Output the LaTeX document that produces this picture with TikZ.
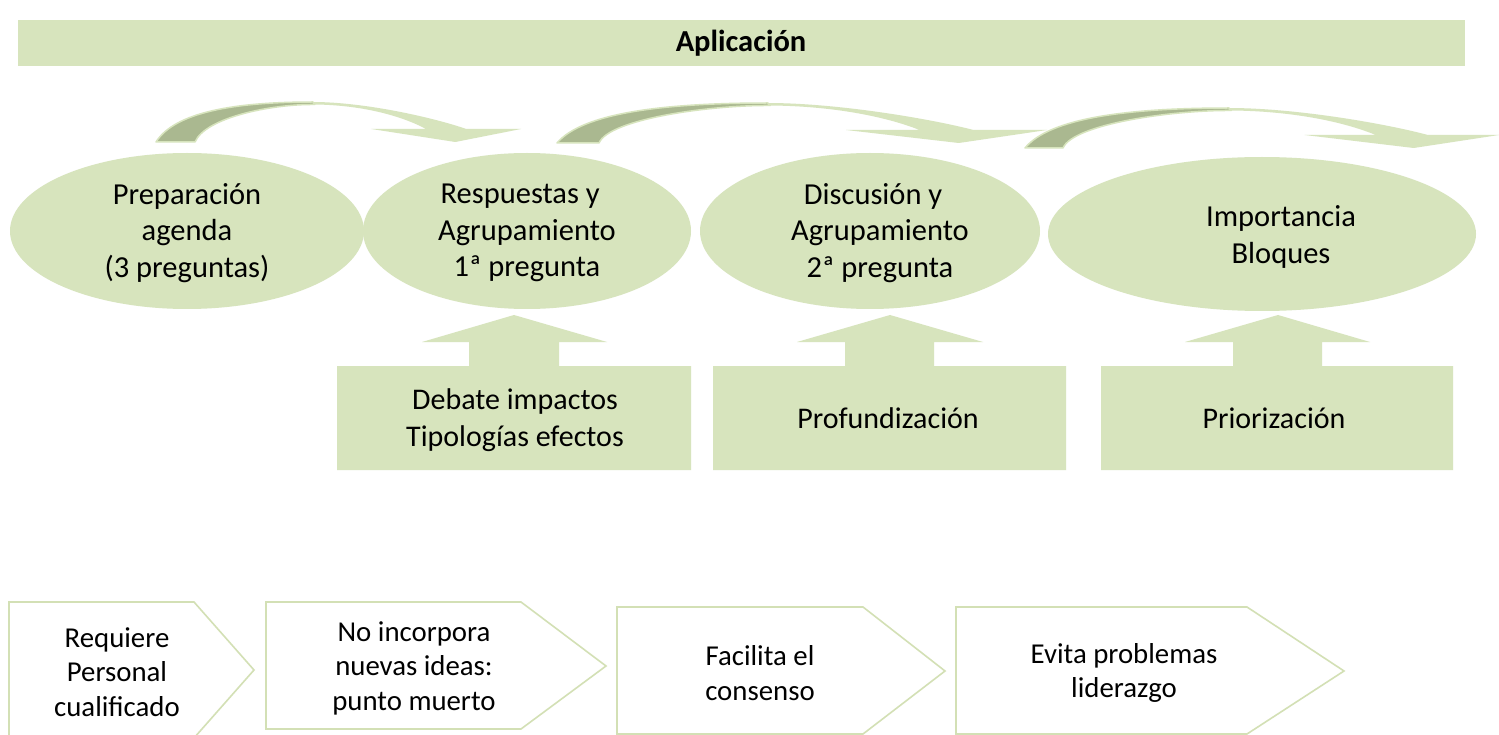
\documentclass[tikz,border=0pt]{standalone}
\usepackage{fontspec}
\setmainfont{Carlito}
\definecolor{lgreen}{HTML}{D7E4BD}
\definecolor{dgreen}{HTML}{AAB890}
\definecolor{cline}{HTML}{D3E0B5}
\tikzset{
  txt/.style={align=center, font=\fontsize{30.5}{36.5}\selectfont, text=black, inner sep=0pt},
  boxtxt/.style={txt, font=\fontsize{30}{37}\selectfont},
  chevtxt/.style={txt, font=\fontsize{28.8}{34.5}\selectfont},
  oval/.style={fill=lgreen, draw=none},
  chevshape/.style={draw=cline, line width=1.6pt, fill=white, line join=miter},
}
% #1 tail outer x, #2 length, #3 top y, #4 tail width
\newcommand\curvarrow[4]{%
  \fill[lgreen]
    (#1,#3+40) .. controls ({#1+0.052*#2},#3+10) and ({#1+0.216*#2},#3) .. ({#1+0.43*#2},#3)
    .. controls ({#1+0.573*#2},#3) and ({#1+0.764*#2},#3+16) .. ({#1+0.85*#2},#3+27)
    -- ({#1+#2},#3+27) -- ({#1+0.82*#2},#3+40) -- ({#1+0.59*#2},#3+27) -- ({#1+0.74*#2},#3+27)
    .. controls ({#1+0.668*#2},#3+13) and ({#1+0.559*#2},#3+3) .. ({#1+0.435*#2},#3+2.5)
    .. controls ({#1+0.312*#2},#3+2) and ({#1+#4+10},#3+16) .. ({#1+#4},#3+40) -- cycle;
  \filldraw[fill=dgreen, draw=lgreen, line width=1.5pt, line join=round]
    (#1,#3+40) .. controls ({#1+0.052*#2},#3+10) and ({#1+0.216*#2},#3) .. ({#1+0.43*#2},#3)
    -- ({#1+0.435*#2},#3+2.5)
    .. controls ({#1+0.312*#2},#3+2) and ({#1+#4+10},#3+16) .. ({#1+#4},#3+40) -- cycle;
}
% callout: #1 rect left, #2 rect right, #3 shaft left, #4 shaft right, #5 head left, #6 head right, #7 tip x
\newcommand\upcallout[7]{%
  \fill[lgreen] (#1,470) -- (#1,366) -- (#3,366) -- (#3,342) -- (#5,342) -- (#7,315)
    -- (#6,342) -- (#4,342) -- (#4,366) -- (#2,366) -- (#2,470) -- cycle;
}
\begin{document}
\begin{tikzpicture}[x=1pt,y=-1pt]
\useasboundingbox (0,0) rectangle (1499,735);
\fill[white] (0,0) rectangle (1499,735);

% top bar
\fill[lgreen] (18,20) rectangle (1465,66);
\node[txt, font=\bfseries\fontsize{30.5}{34}\selectfont] (title) at (741,43) {Aplicación};

% curved arrows
\curvarrow{156}{365}{102}{39}
\curvarrow{557}{490}{103}{42}
\curvarrow{1025}{474}{108}{38}

% ellipses
\fill[oval] (187,231) ellipse [x radius=177, y radius=78];
\fill[oval] (527,231) ellipse [x radius=164, y radius=78];
\fill[oval] (870,231) ellipse [x radius=170, y radius=78];
\fill[oval] (1262,234) ellipse [x radius=214, y radius=77];

\node[txt] (e1) at (187,233) {Preparación\\agenda\\(3 preguntas)};
\node[txt] (e2) at (527,233) {Respuestas y\rule{0.45em}{0pt}\\Agrupamiento\\1ª pregunta};
\node[txt] (e3) at (880,233) {Discusión y\rule{0.45em}{0pt}\\Agrupamiento\\2ª pregunta};
\node[txt] (e4) at (1281,237) {Importancia\\Bloques};

% up callouts
\upcallout{337}{691}{469}{559}{422}{607}{514}
\upcallout{713}{1066}{845}{934}{797}{983}{890}
\upcallout{1101}{1453}{1233}{1322}{1185}{1370}{1278}

\node[boxtxt] (b1) at (515,420) {Debate impactos\\Tipologías efectos};
\node[boxtxt] (b2) at (888,418) {Profundización};
\node[boxtxt] (b3) at (1274,418) {Priorización};

% chevrons
\draw[chevshape] (9,602) -- (194,602) -- (254,670) -- (194,738) -- (9,738) -- cycle;
\draw[chevshape] (266,602) -- (521,602) -- (606,666) -- (521,729) -- (266,729) -- cycle;
\draw[chevshape] (617,607) -- (863,607) -- (945,671) -- (863,734) -- (617,734) -- cycle;
\draw[chevshape] (956,607) -- (1247,607) -- (1344,671) -- (1247,734) -- (956,734) -- cycle;

\node[chevtxt] (c1) at (117,672) {Requiere\\Personal\\cualificado};
\node[chevtxt] (c2) at (414,668) {No incorpora\\nuevas ideas:\\punto muerto};
\node[chevtxt] (c3) at (760,673) {Facilita el\\consenso};
\node[chevtxt] (c4) at (1124,673) {Evita problemas\\liderazgo};
\end{tikzpicture}
\end{document}
